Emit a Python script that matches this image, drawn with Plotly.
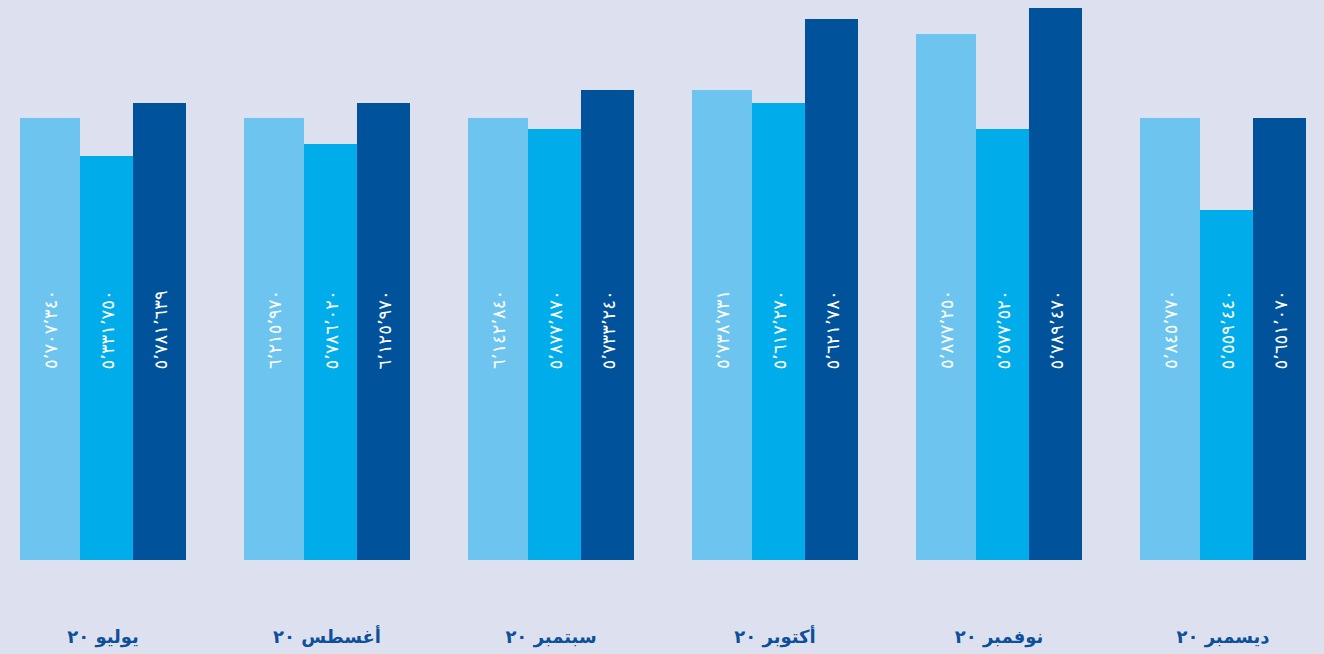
import plotly.graph_objects as go

months = ["يوليو ٢٠", "أغسطس ٢٠", "سبتمبر ٢٠", "أكتوبر ٢٠", "نوفمبر ٢٠", "ديسمبر ٢٠"]

# bar heights (visual units)
light_vals = [442, 442, 442, 470, 526, 442]
mid_vals = [404, 416, 431, 457, 431, 350]
dark_vals = [457, 457, 470, 541, 552, 442]

light_labels = ["٥٬٧٠٧٬٣٤٠", "٦٬٢١٥٬٩٧٠", "٦٬١٤٢٬٨٤٠", "٥٬٧٣٨٬٧٣١", "٥٬٨٧٧٬٢٥٠", "٥٬٨٤٥٬٧٧٠"]
mid_labels = ["٥٬٣٣١٬٧٥٠", "٥٬٧٨٦٬٠٢٠", "٥٬٨٧٧٬٨٧٠", "٥٬٦١٧٬٢٧٠", "٥٬٥٧٧٬٥٢٠", "٥٬٥٥٩٬٤٤٠"]
dark_labels = ["٥٬٧٨١٬٦٣٩", "٦٬١٢٥٬٩٧٠", "٥٬٧٣٣٬٢٤٠", "٥٬٦٢١٬٧٨٠", "٥٬٧٨٩٬٤٧٠", "٥٬٦٥١٬٠٧٠"]

colors = ["#6dc5ef", "#00adea", "#00529b"]
U = 224.0
offsets = [-83 / U, -23 / U, 30 / U]
widths = [60 / U, 53 / U, 53 / U]

x = list(range(len(months)))
fig = go.Figure()
series = [(light_vals, light_labels), (mid_vals, mid_labels), (dark_vals, dark_labels)]
for k, (vals, labs) in enumerate(series):
    fig.add_trace(go.Bar(
        x=x, y=vals, width=widths[k], offset=offsets[k],
        marker=dict(color=colors[k], line=dict(width=0)),
        showlegend=False, hoverinfo="skip",
    ))
    for i, lab in enumerate(labs):
        fig.add_annotation(
            x=i + offsets[k] + widths[k] / 2, y=230, text=lab,
            textangle=-90, showarrow=False,
            font=dict(family="DejaVu Sans", size=18, color="white"),
        )

bg = "#dde1ef"
fig.update_layout(
    width=1324, height=654,
    margin=dict(l=0, r=0, t=0, b=94),
    paper_bgcolor=bg, plot_bgcolor=bg,
    barmode="overlay", bargap=0,
    xaxis=dict(
        range=[-103 / U, (1324 - 103) / U],
        tickmode="array", tickvals=x, ticktext=months,
        showgrid=False, zeroline=False, showline=False, ticks="",
        tickfont=dict(family="DejaVu Sans", size=18, color="#0d4f98", weight="bold"),
        ticklabelstandoff=64,
    ),
    yaxis=dict(range=[0, 560], visible=False, showgrid=False, zeroline=False),
)

fig.write_html("out.html")
